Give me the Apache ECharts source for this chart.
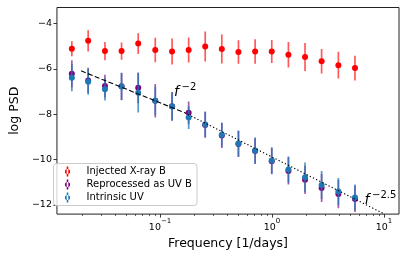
<!DOCTYPE html>
<html>
<head>
<meta charset="utf-8">
<script src="https://cdn.jsdelivr.net/npm/echarts@6/dist/echarts.min.js"></script>
<style>html,body{margin:0;padding:0;background:#fff;}#c{width:407px;height:255px;}</style>
</head>
<body>
<div id="c"></div>
<script>
// ---- data ----
const freq = [0.0163, 0.0228, 0.0322, 0.0453, 0.0638, 0.0906, 0.128, 0.180, 0.253, 0.356, 0.501, 0.706, 0.994, 1.40, 1.97, 2.77, 3.91, 5.50];
const xrayB    = [-5.12, -4.77, -5.22, -5.22, -4.89, -5.17, -5.24, -5.17, -5.02, -5.13, -5.26, -5.24, -5.24, -5.38, -5.48, -5.67, -5.84, -5.97];
const xrayBErr = [0.33, 0.47, 0.40, 0.38, 0.46, 0.54, 0.57, 0.55, 0.66, 0.64, 0.52, 0.54, 0.51, 0.56, 0.62, 0.54, 0.59, 0.54];
const uvB      = [-6.22, -6.51, -6.76, -6.77, -6.84, -7.41, -7.65, -7.94, -8.47, -8.94, -9.31, -9.62, -10.07, -10.50, -10.89, -11.25, -11.52, -11.73];
const uvBErr   = [0.60, 0.56, 0.50, 0.60, 0.68, 0.74, 0.63, 0.50, 0.57, 0.55, 0.57, 0.57, 0.58, 0.60, 0.62, 0.62, 0.62, 0.58];
const uvInt    = [-6.39, -6.57, -6.90, -6.78, -7.06, -7.41, -7.66, -8.15, -8.45, -8.90, -9.29, -9.60, -10.04, -10.44, -10.78, -11.12, -11.41, -11.67];
const uvIntErr = [0.60, 0.57, 0.50, 0.60, 0.87, 0.62, 0.63, 0.50, 0.57, 0.53, 0.57, 0.57, 0.58, 0.58, 0.65, 0.62, 0.60, 0.57];
// reference power-law lines (end points)
const slope2F = [0.0197, 0.1667];
const slope2V = [-6.09, -7.94];
const slope25F = [0.1667, 10];
const slope25V = [-7.94, -12.39];
// ticks
const xMajorTicks = [0.1, 1, 10];
const yTicks = [-12, -10, -8, -6, -4];
const seriesNames = ['Injected X-ray B', 'Reprocessed as UV B', 'Intrinsic UV'];
const colors = ['#ff0000', '#800080', '#1f77b4'];

const xMinorTicks = [];
[0.01, 0.1, 1, 10].forEach(d => { for (let k = 2; k <= 9; k++) xMinorTicks.push(+(d * k).toPrecision(3)); });

const FONT = 'DejaVu Sans';
const chart = echarts.init(document.getElementById('c'), null, {renderer: 'canvas'});

function errData(v, e) { return freq.map((f, i) => [f, v[i] - e[i], v[i] + e[i]]); }
function ptData(v) { return freq.map((f, i) => [f, v[i]]); }
function errSeries(v, e, color, z, alpha) {
  return {
    type: 'custom', z: z, silent: true, clip: true,
    encode: {x: 0, y: [1, 2]},
    data: errData(v, e),
    renderItem: function (params, api) {
      const a = api.coord([api.value(0), api.value(1)]);
      const b = api.coord([api.value(0), api.value(2)]);
      return {type: 'line', shape: {x1: a[0], y1: a[1], x2: b[0], y2: b[1]},
        style: {stroke: color, lineWidth: 1.7, opacity: alpha}};
    }
  };
}
function ptSeries(name, v, color, z) {
  return {type: 'scatter', name: name, z: z, data: ptData(v), symbol: 'circle', symbolSize: 6,
    itemStyle: {color: color, opacity: 1}, silent: true};
}
const legendIcon = 'path://M0,0L0,0.01M26,0L26,0.01M11.2,1h1.6v10h-1.6zM9.4,6a2.6,2.6 0 1,0 5.2,0a2.6,2.6 0 1,0 -5.2,0z';

function txt(left, top, text, size, italic) {
  return {type: 'text', left: left, top: top, z: 20, silent: true,
    style: {text: text, fontFamily: FONT, fontSize: size, fontStyle: italic ? 'italic' : 'normal', fill: '#000'}};
}

const option = {
  animation: false,
  backgroundColor: '#fff',
  grid: {left: 48.5, right: 8, top: 7.5, bottom: 39, show: true, borderColor: '#222', borderWidth: 1, backgroundColor: 'transparent'},
  xAxis: [{
    type: 'log', logBase: 10, min: 0.012, max: 13.6,
    name: 'Frequency [1/days]', nameLocation: 'middle', nameGap: 15,
    nameTextStyle: {fontFamily: FONT, fontSize: 12.5, color: '#000'},
    axisLine: {show: false},
    splitLine: {show: false},
    axisTick: {show: true, length: 3.5, inside: false, customValues: xMajorTicks, lineStyle: {color: '#222', width: 0.9}},
    axisLabel: {show: true, customValues: xMajorTicks, margin: 4, color: '#000', fontFamily: FONT,
      formatter: function (v) { const e = Math.round(Math.log10(v)); return '{b|10}{s|' + String(e).replace('-', '\u2212') + '}'; },
      rich: {b: {fontSize: 9.5, fontFamily: FONT, color: '#000', lineHeight: 14, verticalAlign: 'bottom'},
             s: {fontSize: 7, fontFamily: FONT, color: '#000', lineHeight: 14, verticalAlign: 'top'}}}
  }, {
    type: 'log', logBase: 10, min: 0.012, max: 13.6, gridIndex: 0, position: 'bottom',
    axisLine: {show: false}, splitLine: {show: false}, axisLabel: {show: false},
    axisTick: {show: true, length: 2, customValues: xMinorTicks, lineStyle: {color: '#222', width: 0.7}}
  }],
  yAxis: {
    type: 'value', min: -12.4, max: -3.3,
    name: 'log PSD', nameLocation: 'middle', nameGap: 29,
    nameTextStyle: {fontFamily: FONT, fontSize: 12.5, color: '#000'},
    axisLine: {show: false}, splitLine: {show: false},
    axisTick: {show: true, length: 3.5, customValues: yTicks, lineStyle: {color: '#222', width: 0.9}},
    axisLabel: {customValues: yTicks, margin: 5, color: '#000', fontFamily: FONT, fontSize: 9.5,
      formatter: v => String(v).replace('-', '\u2212')}
  },
  legend: {
    orient: 'vertical', left: 53.5, top: 163.5,
    data: seriesNames,
    icon: legendIcon, itemWidth: 26, itemHeight: 12, itemGap: 2,
    padding: [2, 5, 3, 2],
    backgroundColor: 'rgba(255,255,255,0.8)', borderColor: '#cccccc', borderWidth: 1, borderRadius: 3,
    textStyle: {fontFamily: FONT, fontSize: 10, color: '#000', padding: [0, 0, 0, 0]},
    selectedMode: false
  },
  series: [
    errSeries(xrayB, xrayBErr, colors[0], 2, 0.65),
    ptSeries(seriesNames[0], xrayB, colors[0], 3),
    errSeries(uvB, uvBErr, colors[1], 4, 0.65),
    ptSeries(seriesNames[1], uvB, colors[1], 5),
    errSeries(uvInt, uvIntErr, colors[2], 6, 0.75),
    ptSeries(seriesNames[2], uvInt, colors[2], 7),
    {type: 'line', z: 8, silent: true, symbol: 'none', data: slope2F.map((f, i) => [f, slope2V[i]]),
      lineStyle: {color: '#000', width: 1.1, type: [5, 2.4]}},
    {type: 'line', z: 8, silent: true, symbol: 'none', data: slope25F.map((f, i) => [f, slope25V[i]]),
      lineStyle: {color: '#000', width: 1.1, type: [1.3, 2.2]}}
  ],
  graphic: [
    txt(174, 85, 'f', 14, true),
    txt(181.5, 82, '\u22122', 10, false),
    txt(364.5, 193.5, 'f', 14, true),
    txt(372, 190.5, '\u22122.5', 10, false)
  ]
};
chart.setOption(option);
</script>
</body>
</html>
